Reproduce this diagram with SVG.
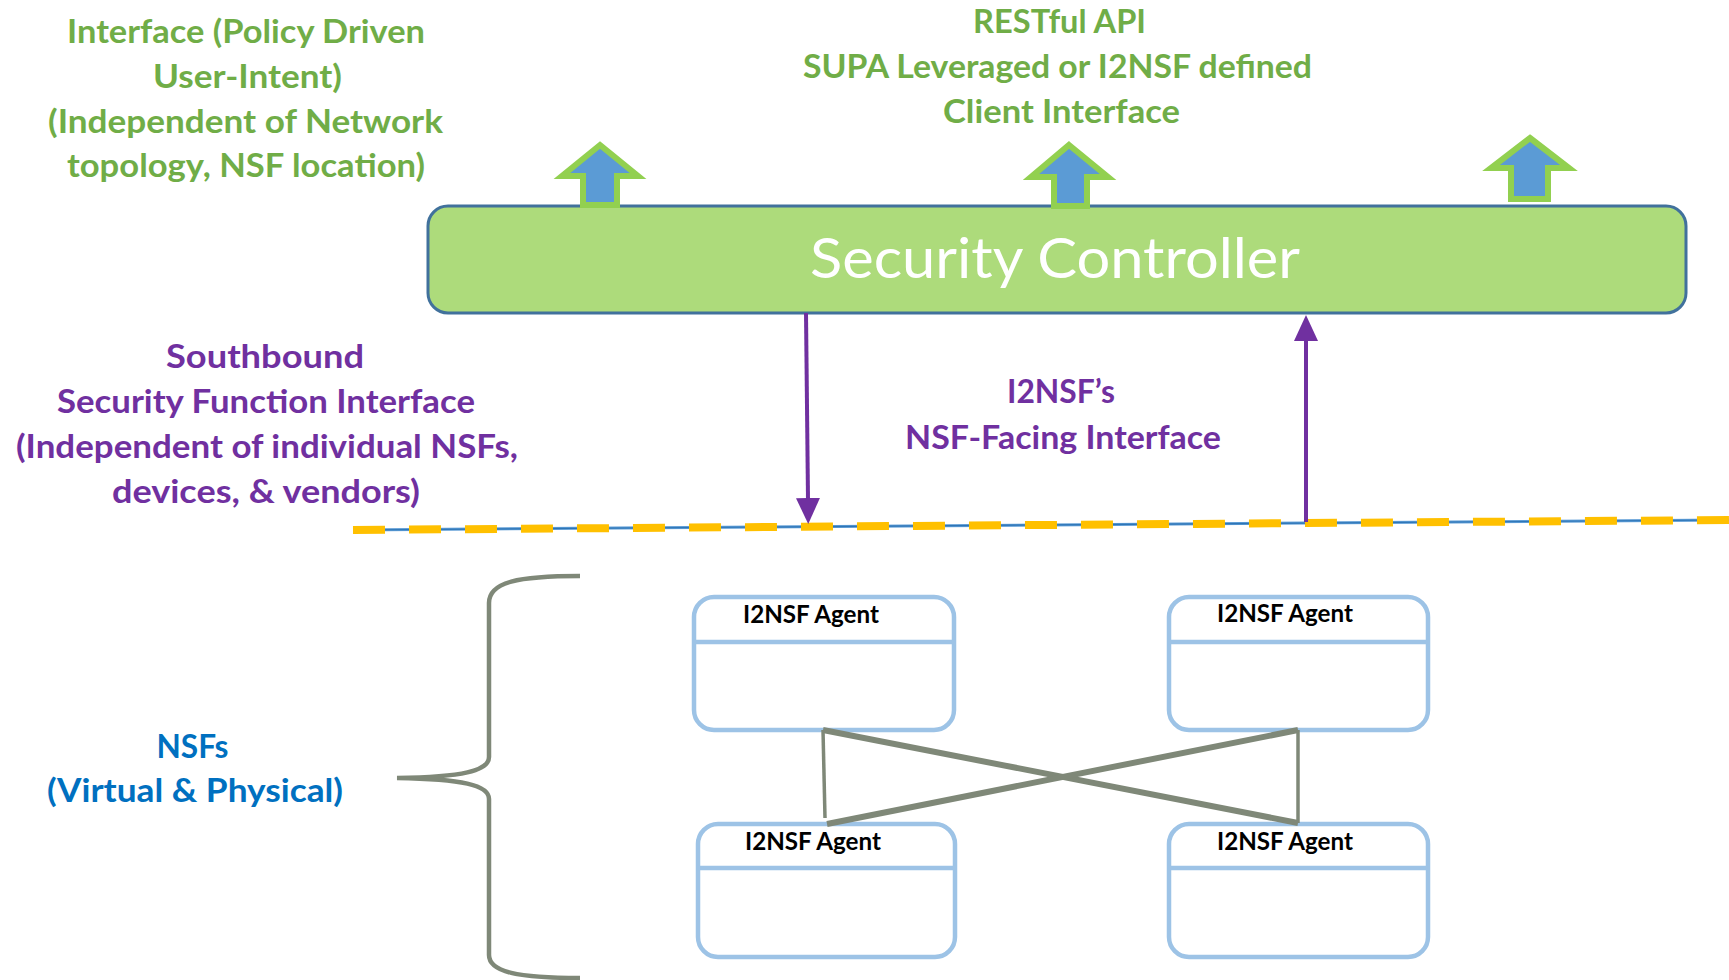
<svg xmlns="http://www.w3.org/2000/svg" width="1729" height="980" viewBox="0 0 1729 980">
  <style>
    .lbl { font-family: Lato, "Open Sans", "Liberation Sans", sans-serif; font-weight: bold; font-size: 33px; text-anchor: middle; }
    .green { fill: #70AD47; }
    .purple { fill: #7030A0; }
    .blue { fill: #0070C0; }
    .agent-box { fill: #FFFFFF; stroke: #9DC3E6; stroke-width: 4.5; }
    .agent-div { stroke: #9DC3E6; stroke-width: 4.5; }
    .agent-txt { font-family: Lato, "Open Sans", "Liberation Sans", sans-serif; font-weight: bold; font-size: 25px; fill: #000000; text-anchor: middle; }
    .up-arrow { fill: #5B9BD5; stroke: #92D050; stroke-width: 6; stroke-linejoin: miter; }
    .link { stroke: #7F8878; fill: none; stroke-linecap: butt; }
    .sb { stroke: #7030A0; stroke-width: 4; fill: none; }
  </style>
  <defs>
    <marker id="ph" viewBox="0 0 26 24" markerWidth="26" markerHeight="24" refX="2" refY="12" orient="auto" markerUnits="userSpaceOnUse">
      <path d="M0,0 L26,12 L0,24 Z" fill="#7030A0"/>
    </marker>
  </defs>

  <rect width="1729" height="980" fill="#FFFFFF"/>

  <!-- Northbound interface description -->
  <g id="client-interface-left">
    <text class="lbl green" x="246" y="43" textLength="358" lengthAdjust="spacingAndGlyphs">Interface (Policy  Driven</text>
    <text class="lbl green" x="247.5" y="88" textLength="189" lengthAdjust="spacingAndGlyphs">User-Intent)</text>
    <text class="lbl green" x="245.5" y="133" textLength="395" lengthAdjust="spacingAndGlyphs">(Independent of Network</text>
    <text class="lbl green" x="246" y="177" textLength="358" lengthAdjust="spacingAndGlyphs">topology, NSF location)</text>
  </g>

  <g id="client-interface-top">
    <text class="lbl green" x="1059.5" y="33" textLength="173" lengthAdjust="spacingAndGlyphs">RESTful API</text>
    <text class="lbl green" x="1057.5" y="78" textLength="509" lengthAdjust="spacingAndGlyphs">SUPA Leveraged or I2NSF defined</text>
    <text class="lbl green" x="1061.5" y="123" textLength="237" lengthAdjust="spacingAndGlyphs">Client  Interface</text>
  </g>

  <!-- Security controller -->
  <g id="security-controller">
    <rect x="428" y="206" width="1258" height="107" rx="20" ry="20" fill="#ADDB7B" stroke="#41719C" stroke-width="3"/>
    <text x="1055" y="278" font-family="Lato, 'Open Sans', 'Liberation Sans', sans-serif" font-size="57" fill="#FFFFFF" text-anchor="middle" textLength="490" lengthAdjust="spacingAndGlyphs">Security Controller</text>
  </g>

  <!-- Northbound block arrows -->
  <g id="north-arrows">
    <polygon class="up-arrow" points="600,145 638,176 617,176 617,205 583,205 583,176 562,176"/>
    <polygon class="up-arrow" points="1069,145 1108,177 1087,177 1087,206 1054,206 1054,177 1031,177"/>
    <polygon class="up-arrow" points="1530,138 1569,168 1548,168 1548,199 1511,199 1511,168 1491,168"/>
  </g>

  <!-- Southbound interface description -->
  <g id="southbound-label">
    <text class="lbl purple" x="265" y="368" textLength="198" lengthAdjust="spacingAndGlyphs">Southbound</text>
    <text class="lbl purple" x="266" y="413" textLength="418" lengthAdjust="spacingAndGlyphs">Security Function Interface</text>
    <text class="lbl purple" x="267" y="458" textLength="502" lengthAdjust="spacingAndGlyphs">(Independent of individual NSFs,</text>
    <text class="lbl purple" x="266" y="503" textLength="308" lengthAdjust="spacingAndGlyphs">devices, &amp; vendors)</text>
  </g>

  <g id="nsf-facing-label">
    <text class="lbl purple" x="1061" y="403" textLength="108" lengthAdjust="spacingAndGlyphs">I2NSF’s</text>
    <text class="lbl purple" x="1063" y="449" textLength="316" lengthAdjust="spacingAndGlyphs">NSF-Facing Interface</text>
  </g>

  <!-- Boundary between controller and NSFs -->
  <g id="boundary">
    <line x1="353" y1="530" x2="1729" y2="520" stroke="#5B9BD5" stroke-width="3"/>
    <line x1="353" y1="530" x2="1729" y2="520" stroke="#2E75B6" stroke-width="1.2"/>
    <line x1="353" y1="530" x2="1729" y2="520" stroke="#FFC000" stroke-width="8" stroke-dasharray="32 24"/>
  </g>

  <!-- NSF group label and brace -->
  <g id="nsfs-label">
    <text class="lbl blue" x="192.5" y="758" textLength="72" lengthAdjust="spacingAndGlyphs">NSFs</text>
    <text class="lbl blue" x="195" y="802" textLength="296" lengthAdjust="spacingAndGlyphs">(Virtual &amp; Physical)</text>
  </g>
  <g id="nsfs-brace">
    <path class="link" stroke-width="4.5" d="M580,576 C518,576 489,582 489,603 L489,757 C489,771 462,777 397,778 C462,779 489,785 489,799 L489,955 C489,972 518,978 580,978"/>
  </g>

  <!-- I2NSF agents -->
  <g id="agent-1">
    <rect class="agent-box" x="694" y="597" width="260" height="133" rx="20" ry="20"/>
    <line class="agent-div" x1="694" y1="642" x2="954" y2="642"/>
    <text class="agent-txt" x="811" y="623" textLength="136" lengthAdjust="spacingAndGlyphs">I2NSF Agent</text>
  </g>
  <g id="agent-2">
    <rect class="agent-box" x="1169" y="597" width="259" height="133" rx="20" ry="20"/>
    <line class="agent-div" x1="1169" y1="642" x2="1428" y2="642"/>
    <text class="agent-txt" x="1285" y="622" textLength="136" lengthAdjust="spacingAndGlyphs">I2NSF Agent</text>
  </g>
  <g id="agent-3">
    <rect class="agent-box" x="698" y="824" width="257" height="133" rx="20" ry="20"/>
    <line class="agent-div" x1="698" y1="868" x2="955" y2="868"/>
    <text class="agent-txt" x="813" y="850" textLength="136" lengthAdjust="spacingAndGlyphs">I2NSF Agent</text>
  </g>
  <g id="agent-4">
    <rect class="agent-box" x="1169" y="824" width="259" height="133" rx="20" ry="20"/>
    <line class="agent-div" x1="1169" y1="868" x2="1428" y2="868"/>
    <text class="agent-txt" x="1285" y="850" textLength="136" lengthAdjust="spacingAndGlyphs">I2NSF Agent</text>
  </g>

  <!-- Connectors -->
  <g id="connectors">
    <line class="sb" x1="806" y1="313" x2="808" y2="500" marker-end="url(#ph)"/>
    <line class="sb" x1="1306" y1="522" x2="1306" y2="339" marker-end="url(#ph)"/>
    <line class="link" stroke-width="3.5" x1="823" y1="730" x2="825" y2="818"/>
    <line class="link" stroke-width="3.5" x1="1298" y1="730" x2="1298" y2="823"/>
    <line class="link" stroke-width="6" x1="823" y1="730" x2="1298" y2="823"/>
    <line class="link" stroke-width="6" x1="1298" y1="730" x2="827" y2="824"/>
  </g>
</svg>
